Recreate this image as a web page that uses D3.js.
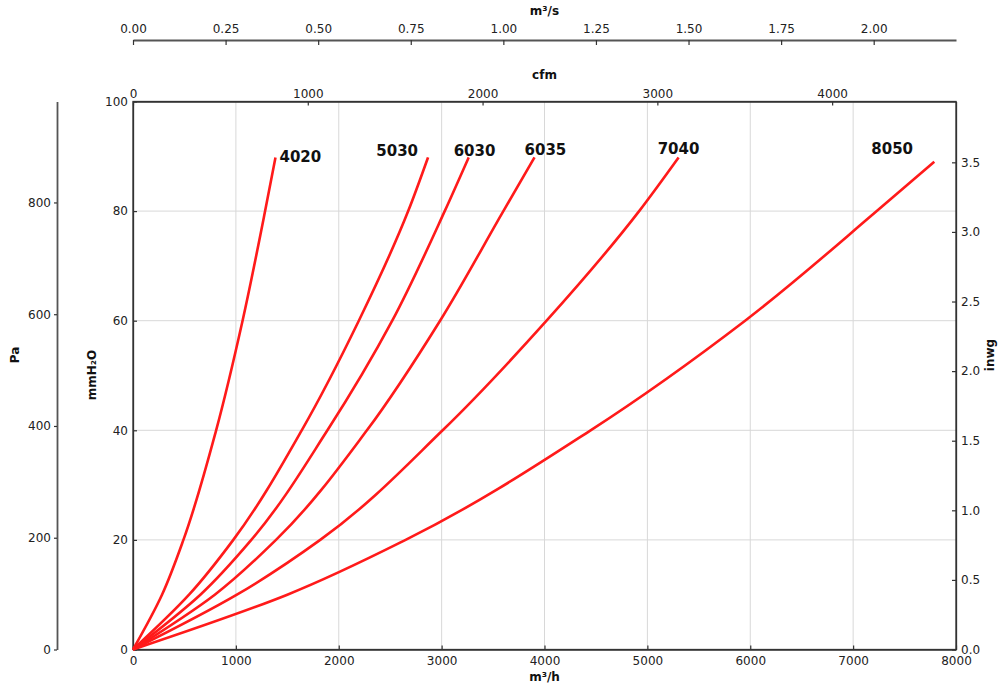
<!DOCTYPE html>
<html><head><meta charset="utf-8">
<script src="https://cdn.jsdelivr.net/npm/d3@7"></script>
<style>
body{margin:0;background:#fff}
text{font-family:"DejaVu Sans",sans-serif}
</style>
</head><body>
<svg id="chart" width="1003" height="688"></svg>
<script>
// ---------- data ----------
const models = ["4020", "5030", "6030", "6035", "7040", "8050"];
// pressure levels (mmH2O) at which the flow of each curve was read
const pressureLevels = [0, 10, 20, 40, 60, 80];
// flow (m³/h) of each curve at those pressure levels
const flow4020 = [0, 282, 490, 808, 1065, 1284];
const flow5030 = [0, 545, 975, 1640, 2195, 2675];
const flow6030 = [0, 655, 1150, 1890, 2520, 3030];
const flow6035 = [0, 795, 1390, 2274, 2985, 3600];
const flow7040 = [0, 1010, 1820, 3010, 4020, 4920];
const flow8050 = [0, 1500, 2650, 4448, 5950, 7230];
// end point of each curve
const endFlow = [1385, 2868, 3263, 3903, 5304, 7789];
const endPressure = [89.8, 89.8, 89.8, 89.8, 89.8, 89.0];

// tick values
const flowTicks = [0, 1000, 2000, 3000, 4000, 5000, 6000, 7000, 8000];
const mmTicks = [0, 20, 40, 60, 80, 100];
const paTicks = [0, 200, 400, 600, 800];
const inwgTicks = [0, 0.5, 1.0, 1.5, 2.0, 2.5, 3.0, 3.5];
const cfmTicks = [0, 1000, 2000, 3000, 4000];
const m3sTicks = [0, 0.25, 0.5, 0.75, 1.0, 1.25, 1.5, 1.75, 2.0];

// unit conversions
const M3H_PER_CFM = 1.699, M3H_PER_M3S = 3600, PA_PER_MM = 9.80665, MM_PER_INWG = 25.4;

// label placement (pixels relative to curve end)
const labelDx = [4, -10, -15, -10, -21, -63];
const labelDy = [5, -1, -1.5, -2.3, -3.3, -7.7];
const labelAnchor = ["start", "end", "start", "start", "start", "start"];

// ---------- layout ----------
const L = 133, R = 956, T = 101.5, B = 649.5;
const svg = d3.select("#chart");

const x = d3.scaleLinear().domain([0, 8000]).range([L, R]);
const y = d3.scaleLinear().domain([0, 100]).range([B, T]);
const yPa = d3.scaleLinear().domain([0, 100 * PA_PER_MM]).range([B, T]);
const yIn = d3.scaleLinear().domain([0, 100 / MM_PER_INWG]).range([B, T]);
const xCfm = d3.scaleLinear().domain([0, 8000 / M3H_PER_CFM]).range([L, R]);
const xM3s = d3.scaleLinear().domain([0, 8000 / M3H_PER_M3S]).range([L, R]);

// grid
const grid = svg.append("g").attr("stroke", "#d8d8d8").attr("stroke-width", 1);
grid.selectAll("line.v").data(flowTicks.slice(1, -1)).join("line")
  .attr("x1", d => x(d)).attr("x2", d => x(d)).attr("y1", T).attr("y2", B);
grid.selectAll("line.h").data(mmTicks.slice(1, -1)).join("line")
  .attr("class", "h")
  .attr("x1", L).attr("x2", R).attr("y1", d => y(d)).attr("y2", d => y(d));

function styleAxis(g, size) {
  g.selectAll("path.domain").attr("stroke", "#333").attr("stroke-width", 1.3);
  g.selectAll(".tick line").attr("stroke", "#333").attr("stroke-width", 1.2);
  g.selectAll(".tick text").attr("fill", "#222").style("font-size", (size || 12) + "px")
    .style("font-family", "'DejaVu Sans', sans-serif");
}

// bottom m³/h
svg.append("g").attr("transform", `translate(0,${B})`)
  .call(d3.axisBottom(x).tickValues(flowTicks).tickFormat(d3.format("d")).tickSize(-4).tickSizeOuter(0).tickPadding(7))
  .call(styleAxis);
// left mmH2O
svg.append("g").attr("transform", `translate(${L},0)`)
  .call(d3.axisLeft(y).tickValues(mmTicks).tickFormat(d3.format("d")).tickSize(-4).tickSizeOuter(0).tickPadding(5))
  .call(styleAxis);
// right inwg
svg.append("g").attr("transform", `translate(${R},0)`)
  .call(d3.axisRight(yIn).tickValues(inwgTicks).tickFormat(d3.format(".1f")).tickSize(-4).tickSizeOuter(0).tickPadding(5))
  .call(styleAxis);
// top cfm
svg.append("g").attr("transform", `translate(0,${T})`)
  .call(d3.axisTop(xCfm).tickValues(cfmTicks).tickFormat(d3.format("d")).tickSize(-4).tickSizeOuter(0).tickPadding(4))
  .call(styleAxis);
// Pa axis
svg.append("g").attr("transform", `translate(57,0)`)
  .call(d3.axisLeft(yPa).tickValues(paTicks).tickFormat(d3.format("d")).tickSize(3).tickSizeOuter(0).tickPadding(3))
  .call(g => { styleAxis(g); g.select("path.domain").attr("stroke", "#555").attr("stroke-width", 1.8); });
// m³/s axis
svg.append("g").attr("transform", `translate(0,40)`)
  .call(d3.axisTop(xM3s).tickValues(m3sTicks).tickFormat(d3.format(".2f")).tickSize(-5).tickSizeOuter(0).tickPadding(7))
  .call(g => { styleAxis(g); g.select("path.domain").attr("stroke", "#555").attr("stroke-width", 1.8); });

// frame
svg.append("rect").attr("x", L).attr("y", T).attr("width", R - L).attr("height", B - T)
  .attr("fill", "none").attr("stroke", "#333").attr("stroke-width", 1.3);

// axis titles
const title = (t, tx, ty, rot) => svg.append("text").text(t)
  .attr("transform", `translate(${tx},${ty})` + (rot ? " rotate(-90)" : ""))
  .attr("text-anchor", "middle").attr("dominant-baseline", "central")
  .style("font-size", "12px").style("font-weight", "bold").attr("fill", "#111");
title("m³/h", (L + R) / 2, 677);
title("cfm", (L + R) / 2, 75);
title("m³/s", (L + R) / 2, 11);
title("mmH₂O", 92, 375, true);
title("Pa", 15, 355, true);
title("inwg", 990, 355, true);

// curves
const flows = [flow4020, flow5030, flow6030, flow6035, flow7040, flow8050];
const line = d3.line().x(d => x(d[0])).y(d => y(d[1])).curve(d3.curveMonotoneY);
models.forEach((m, i) => {
  const pts = flows[i].map((f, j) => [f, pressureLevels[j]]);
  pts.push([endFlow[i], endPressure[i]]);
  svg.append("path").datum(pts).attr("d", line)
    .attr("fill", "none").attr("stroke", "#ff1a1a").attr("stroke-width", 2.6);
  svg.append("text").text(m)
    .attr("x", x(endFlow[i]) + labelDx[i]).attr("y", y(endPressure[i]) + labelDy[i])
    .attr("text-anchor", labelAnchor[i])
    .style("font-size", "15px").style("font-weight", "bold").attr("fill", "#111");
});
</script>
</body></html>
